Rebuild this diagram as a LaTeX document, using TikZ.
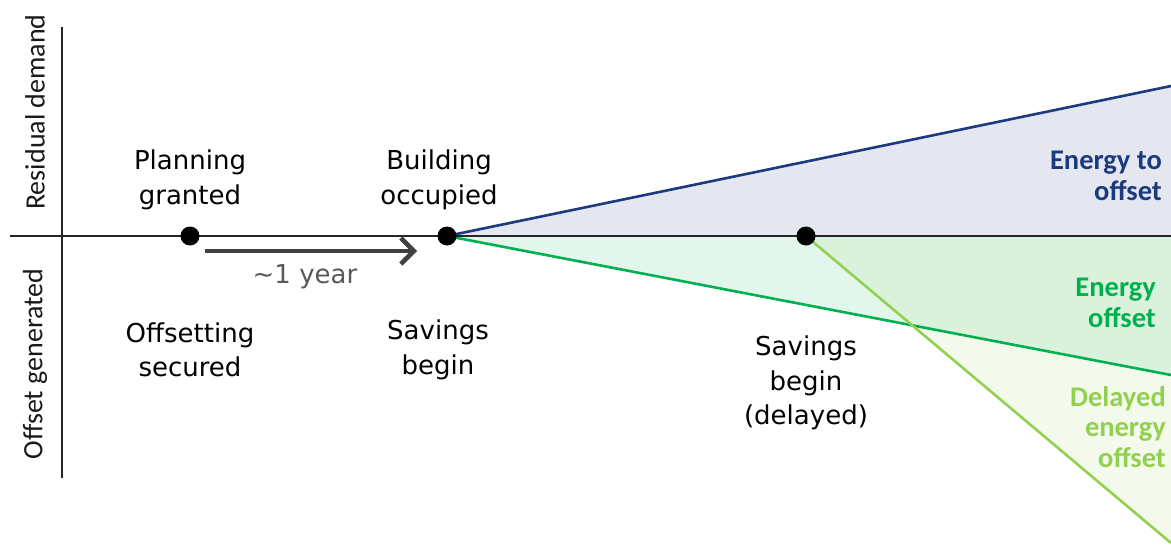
\documentclass[tikz,border=0pt]{standalone}
\usepackage{fontspec}
\setmainfont{DejaVu Sans}
\newfontfamily\calib{Carlito}
\usetikzlibrary{arrows.meta}
\definecolor{navy}{HTML}{1C3A7E}
\definecolor{navyfill}{HTML}{E4E7F0}
\definecolor{grn}{HTML}{00B050}
\definecolor{lgrn}{HTML}{92D050}
\definecolor{axisc}{HTML}{262626}
\definecolor{arrc}{HTML}{404040}
\definecolor{yearc}{HTML}{595959}
\begin{document}
\begin{tikzpicture}[x=1pt,y=-1pt,
  dot/.style={circle,fill=black,inner sep=0pt,minimum size=19pt},
  lbl/.style={font=\fontsize{26}{34.5}\selectfont,align=center,text=black,inner sep=0pt},
  side/.style={font=\calib\fontsize{28}{30}\selectfont,rotate=90,inner sep=0pt,text=black!90},
  zone/.style={font=\calib\bfseries\fontsize{28.5}{30.5}\selectfont,align=right,anchor=east,inner sep=0pt},
  trend/.style={line width=2.6pt},
  axisline/.style={line width=2.8pt,draw=axisc},
  spanarrow/.style={line width=4.5pt,draw=arrc,-{Straight Barb[length=13pt,width=26pt]}},
]
\useasboundingbox (0,0) rectangle (1171,546);

% key points
\coordinate (occ) at (447,236);
\coordinate (del) at (806,236);
\coordinate (topR) at (1171,86);
\coordinate (axR) at (1171,236);
\coordinate (grnR) at (1171,375);
\coordinate (lgrnR) at (1171,543);
\coordinate (axL) at (10,236);
\coordinate (vTop) at (62,27);
\coordinate (vBot) at (62,478);

% fills
\fill[navyfill] (occ) -- (topR) -- (axR) -- cycle;
\fill[grn,opacity=0.11] (occ) -- (grnR) -- (axR) -- cycle;
\fill[lgrn,opacity=0.11] (del) -- (lgrnR) -- (axR) -- cycle;

% trend lines
\draw[trend,navy] (occ) -- (topR);
\draw[trend,grn] (occ) -- (grnR);
\draw[trend,lgrn] (del) -- (lgrnR);

% axes
\draw[axisline] (axL) -- (axR);
\draw[axisline] (vTop) -- (vBot);

% milestones
\node[dot] (plan) at (190,236) {};
\node[dot] (build) at (occ) {};
\node[dot] (delay) at (del) {};

% ~1 year arrow
\coordinate (aS) at (205,251);
\coordinate (aE) at (417,251);
\draw[spanarrow] (aS) -- (aE);
\node[lbl,text=yearc] (yr) at (305,277) {\textasciitilde1 year};

% labels
\node[lbl] (lplan) at (190,180) {Planning\\granted};
\node[lbl] (lbuild) at (439,180) {Building\\occupied};
\node[lbl] (loff) at (190,350) {Offsetting\\secured};
\node[lbl] (lsav) at (438,350) {Savings\\begin};
\node[lbl] (lsavd) at (806,383) {Savings\\begin\\(delayed)};

% axis labels
\node[side] (resid) at (35,112) {Residual demand};
\node[side] (offg) at (35,364) {Offset generated};

% zone labels
\node[zone,text=navy] (z1) at (1162,176) {Energy to\\offset};
\node[zone,text=grn] (z2) at (1156,303) {Energy\\offset};
\node[zone,text=lgrn] (z3) at (1166,427) {Delayed\\energy\\offset};
\end{tikzpicture}
\end{document}
